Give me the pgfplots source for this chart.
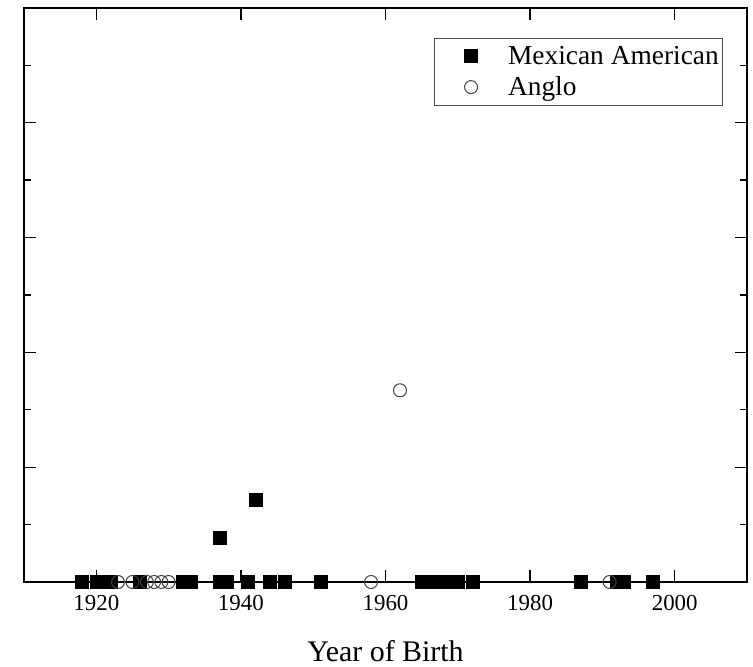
\documentclass[border=0pt]{standalone}
\usepackage{fontspec}
\setmainfont{Liberation Serif}
\usepackage{pgfplots}
\pgfplotsset{compat=1.18}
\begin{document}
\begin{tikzpicture}
\begin{axis}[
  at={(0,0)}, anchor=south west, scale only axis,
  width=723bp, height=574bp,
  xmin=1910, xmax=2010, ymin=0, ymax=5,
  xtick={1920,1940,...,2000},
  ytick={0,1,...,5}, minor ytick={0.5,1.5,...,4.5},
  yticklabels={},
  tick align=inside,
  major tick length=12bp, minor tick length=7bp,
  axis line style={line width=1.6bp},
  every tick/.style={black, line width=1.4bp},
  /pgf/number format/.cd, 1000 sep={}, assume math mode=true, /pgfplots/.cd,
  tick label style={font=\fontsize{23}{27}\selectfont},
  xticklabel style={yshift=-10bp},
  xlabel={Year of Birth},
  xlabel style={font=\fontsize{30}{34}\selectfont, at={(rel axis cs:0.5,0)}, anchor=center, yshift=-69bp},
  legend style={at={(rel axis cs:0.967,0.948)}, anchor=north east,
    font=\fontsize{27.5}{32}\selectfont, draw=black!70, line width=0.8bp,
    row sep=7bp, column sep=4bp, inner xsep=2bp, inner ysep=6bp},
  legend image code/.code={%
    \path[draw=none, fill=none] (0bp,-6bp) rectangle (66bp,6bp);
    \draw[mark repeat=2,mark phase=2,#1] plot coordinates {(0bp,0bp) (35bp,0bp) (66bp,0bp)};},
  legend cell align=left,
]
\addplot[only marks, mark=square*, mark size=6.5bp, black] coordinates {
  (1918,0) (1920,0) (1922,0) (1926,0) (1932,0) (1933,0) (1937,0) (1938,0)
  (1941,0) (1944,0) (1946,0) (1951,0) (1965,0) (1967,0) (1968,0) (1970,0)
  (1972,0) (1987,0) (1992,0) (1993,0) (1997,0)
  (1937,0.39) (1942,0.72)
};
\addlegendentry{Mexican American}
\addplot[only marks, mark=o, mark size=6.5bp, black!75, mark options={fill=white, line width=1bp}] coordinates {
  (1923,0) (1925,0) (1927,0) (1928,0) (1929,0) (1930,0) (1958,0) (1991,0)
  (1962,1.67)
};
\addlegendentry{Anglo}
\end{axis}
\path (-24bp,-85bp) rectangle (729bp,582bp);
\end{tikzpicture}
\end{document}
